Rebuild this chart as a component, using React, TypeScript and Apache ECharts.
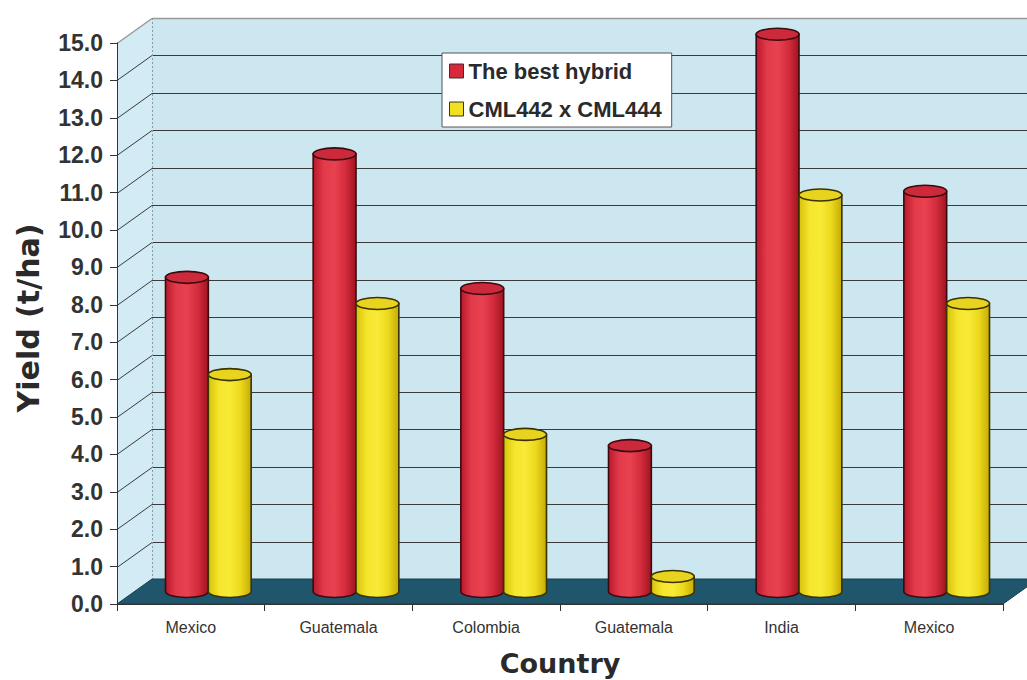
import React, { useEffect, useRef } from "react";
import * as echarts from "echarts";

// Grain yield per trial site
const countries = ["Mexico", "Guatemala", "Colombia", "Guatemala", "India", "Mexico"];
const bestHybrid = [8.4, 11.7, 8.1, 3.9, 14.9, 10.7];
const cml442x444 = [5.8, 7.7, 4.2, 0.4, 10.6, 7.7];
const seriesNames = ["The best hybrid", "CML442 x CML444"];

// value axis
const Y_MIN = 0;
const Y_MAX = 15;
const Y_STEP = 1;

// pseudo-3D box depth (screen offset from the front plane to the back wall)
const DX = 35;
const DY = -25;
const BAR_RATIO = 0.29;
const CAP_RY = 6;

const LABEL_FONT = "'Liberation Sans', Arial, sans-serif";
const TITLE_FONT = "'DejaVu Sans', Verdana, sans-serif";

type Palette = { stops: string[]; top: string; edge: string };

const redPalette: Palette = {
  stops: ["#b81a2c", "#e23a4a", "#e8414f", "#d42c3d", "#a0141f"],
  top: "#cc2a3a",
  edge: "#3a0a10",
};
const yellowPalette: Palette = {
  stops: ["#d6c20c", "#f5e52c", "#f8ea36", "#ecd91c", "#c4ac06"],
  top: "#e8d41e",
  edge: "#3a3200",
};

function renderFrame(params: any, api: any) {
  const cs = params.coordSys;
  const x0 = cs.x;
  const x1 = cs.x + cs.width;
  const yOf = (v: number) => api.coord([0, v])[1];
  const yb = yOf(Y_MIN);
  const yt = yOf(Y_MAX);
  const children: any[] = [];

  // left side wall
  children.push({
    type: "polygon",
    shape: { points: [[x0, yt], [x0 + DX, yt + DY], [x0 + DX, yb + DY], [x0, yb]] },
    style: { fill: "#d2ebf4" },
  });
  // back wall
  children.push({
    type: "rect",
    shape: { x: x0 + DX, y: yt + DY, width: x1 - x0, height: yb - yt },
    style: { fill: "#cde7f1" },
  });

  // gridlines on side and back walls
  const steps = Math.round((Y_MAX - Y_MIN) / Y_STEP);
  for (let i = 1; i < steps; i++) {
    const y = Math.round(yOf(Y_MIN + i * Y_STEP)) + 0.5;
    children.push({
      type: "line",
      shape: { x1: x0, y1: y, x2: x0 + DX, y2: y + DY },
      style: { stroke: "#3a3a3a", lineWidth: 1 },
    });
    children.push({
      type: "line",
      shape: { x1: x0 + DX, y1: y + DY, x2: x1 + DX, y2: y + DY },
      style: { stroke: "#3a3a3a", lineWidth: 1 },
    });
  }

  // top edges of the walls
  const ytr = Math.round(yt) + 0.5;
  children.push({
    type: "line",
    shape: { x1: x0, y1: ytr, x2: x0 + DX, y2: ytr + DY },
    style: { stroke: "#9a9a9a", lineWidth: 1.5 },
  });
  children.push({
    type: "line",
    shape: { x1: x0 + DX, y1: ytr + DY, x2: x1 + DX, y2: ytr + DY },
    style: { stroke: "#9a9a9a", lineWidth: 1.5 },
  });
  // back corner
  children.push({
    type: "line",
    shape: { x1: x0 + DX + 0.5, y1: yt + DY, x2: x0 + DX + 0.5, y2: yb + DY },
    style: { stroke: "#8a9aa2", lineWidth: 1, lineDash: [2, 2] },
  });

  // floor
  children.push({
    type: "polygon",
    shape: { points: [[x0, yb], [x0 + DX, yb + DY], [x1 + DX, yb + DY], [x1, yb]] },
    style: { fill: "#1f566c", stroke: "#163f50", lineWidth: 1 },
  });

  return { type: "group", children };
}

function makeCylinderRenderer(slot: number, pal: Palette) {
  return (params: any, api: any) => {
    const idx = api.value(0);
    const val = api.value(1);
    const base = api.coord([idx, Y_MIN]);
    const top = api.coord([idx, val]);
    const band = api.size([1, 0])[0];
    const w = band * BAR_RATIO;
    const cx = base[0] + DX / 2 + (slot === 0 ? -w / 2 : w / 2);
    const left = cx - w / 2;
    const right = cx + w / 2;
    const yb = base[1] + DY / 2;
    const yt = top[1] + DY / 2;
    const rx = w / 2;
    const ry = CAP_RY;
    const body = `M${left} ${yt} L${left} ${yb} A${rx} ${ry} 0 0 0 ${right} ${yb} L${right} ${yt} Z`;
    const n = pal.stops.length;
    return {
      type: "group",
      children: [
        {
          type: "path",
          shape: { pathData: body },
          style: {
            fill: {
              type: "linear",
              x: 0,
              y: 0,
              x2: 1,
              y2: 0,
              colorStops: pal.stops.map((c, i) => ({ offset: i / (n - 1), color: c })),
            },
            stroke: pal.edge,
            lineWidth: 1.6,
          },
        },
        {
          type: "ellipse",
          shape: { cx, cy: yt, rx, ry },
          style: { fill: pal.top, stroke: pal.edge, lineWidth: 1.6 },
        },
      ],
    };
  };
}

export default function App() {
  const ref = useRef<HTMLDivElement>(null);

  useEffect(() => {
    if (!ref.current) return;
    const chart = echarts.init(ref.current, undefined, { renderer: "svg" });

    const option: any = {
      animation: false,
      backgroundColor: "#ffffff",
      grid: { left: 117, top: 43, width: 886, height: 561 },
      legend: {
        data: seriesNames,
        orient: "vertical",
        left: 442,
        top: 53,
        selectedMode: false,
        icon: "rect",
        itemWidth: 14,
        itemHeight: 14,
        itemGap: 14,
        padding: [6, 10, 6, 7],
        backgroundColor: "#ffffff",
        borderColor: "#555555",
        borderWidth: 1,
        itemStyle: { borderColor: "#333333", borderWidth: 1 },
        textStyle: {
          fontFamily: LABEL_FONT,
          fontWeight: "bold",
          fontSize: 22,
          lineHeight: 24,
          color: "#2a2a2a",
        },
      },
      xAxis: {
        type: "category",
        data: countries,
        z: 5,
        axisLine: { lineStyle: { color: "#333333", width: 1 } },
        axisTick: { show: true, length: 7, lineStyle: { color: "#333333" } },
        axisLabel: {
          interval: 0,
          margin: 15,
          fontFamily: LABEL_FONT,
          fontSize: 16,
          color: "#333333",
        },
        splitLine: { show: false },
      },
      yAxis: {
        type: "value",
        min: Y_MIN,
        max: Y_MAX,
        interval: Y_STEP,
        z: 5,
        axisLine: { show: true, lineStyle: { color: "#333333", width: 1 } },
        axisTick: { show: true, length: 7, lineStyle: { color: "#333333" } },
        axisLabel: {
          margin: 14,
          fontFamily: LABEL_FONT,
          fontWeight: "bold",
          fontSize: 23,
          color: "#333333",
          formatter: (v: number) => v.toFixed(1),
        },
        splitLine: { show: false },
      },
      graphic: [
        {
          type: "text",
          x: 28,
          y: 318,
          rotation: Math.PI / 2,
          style: {
            text: "Yield (t/ha)",
            fontFamily: TITLE_FONT,
            fontWeight: "bold",
            fontSize: 30,
            fill: "#2a2a2a",
            textAlign: "center",
            textVerticalAlign: "middle",
          },
        },
        {
          type: "text",
          x: 560,
          y: 663,
          style: {
            text: "Country",
            fontFamily: TITLE_FONT,
            fontWeight: "bold",
            fontSize: 27,
            fill: "#2a2a2a",
            textAlign: "center",
            textVerticalAlign: "middle",
          },
        },
      ],
      series: [
        {
          name: "frame",
          type: "custom",
          z: 1,
          silent: true,
          renderItem: renderFrame,
          data: [[0, 0]],
        },
        {
          name: seriesNames[0],
          type: "custom",
          z: 2,
          itemStyle: { color: "#d8283a" },
          renderItem: makeCylinderRenderer(0, redPalette),
          data: bestHybrid.map((v, i) => [i, v]),
        },
        {
          name: seriesNames[1],
          type: "custom",
          z: 3,
          itemStyle: { color: "#f0e020" },
          renderItem: makeCylinderRenderer(1, yellowPalette),
          data: cml442x444.map((v, i) => [i, v]),
        },
      ],
    };

    chart.setOption(option);
    return () => chart.dispose();
  }, []);

  return (
    <div
      ref={ref}
      style={{ position: "fixed", left: 0, top: 0, width: 1027, height: 680 }}
    />
  );
}
